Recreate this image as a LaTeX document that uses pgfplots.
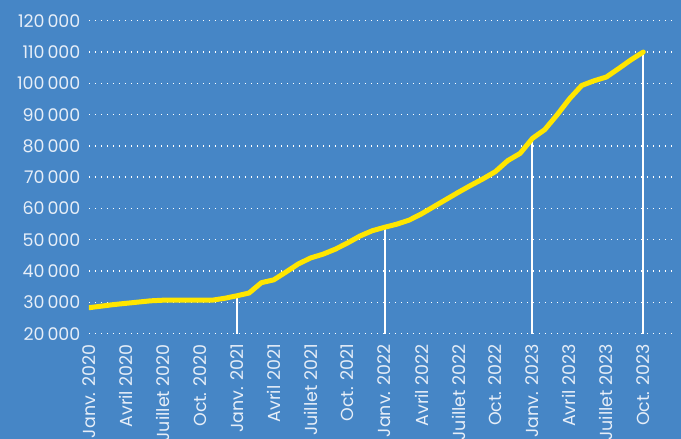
\documentclass[border=0pt]{standalone}
\usepackage{pgfplots}
\pgfplotsset{compat=1.18}
\usepackage{fontspec}
\setmainfont{Poppins}
\definecolor{bg}{RGB}{70,134,198}
\definecolor{yel}{RGB}{255,230,0}
\definecolor{txt}{RGB}{230,238,248}
\pgfplotstableread{
m v
0 28300
1 28800
2 29300
3 29700
4 30100
5 30500
6 30700
7 30700
8 30700
9 30700
10 30700
11 31300
12 32100
13 33000
14 36300
15 37200
16 39700
17 42300
18 44200
19 45400
20 47000
21 49000
22 51200
23 52900
24 54000
25 55000
26 56300
27 58300
28 60600
29 62900
30 65200
31 67400
32 69500
33 71800
34 75300
35 77600
36 82400
37 85200
38 89900
39 95000
40 99300
41 100800
42 102000
43 104700
44 107500
45 110000
}\datatable
\begin{document}
\begin{tikzpicture}
\useasboundingbox (0,0) rectangle (681bp,439bp);
\fill[bg] (0,0) rectangle (681bp,439bp);
\clip (0,0) rectangle (681bp,439bp);
\begin{axis}[
  at={(88.9bp,105.3bp)}, anchor=south west,
  scale only axis, width=585.2bp, height=313bp,
  xmin=0, xmax=47.5, ymin=20000, ymax=120000,
  axis line style={draw=none},
  major tick length=0pt,
  scaled y ticks=false,
  ytick={20000,30000,40000,50000,60000,70000,80000,90000,100000,110000,120000},
  yticklabels={20\,000,30\,000,40\,000,50\,000,60\,000,70\,000,80\,000,90\,000,100\,000,110\,000,120\,000},
  xtick={0,3,...,45},
  xticklabels={Janv. 2020,Avril 2020,Juillet 2020,Oct. 2020,Janv. 2021,Avril 2021,Juillet 2021,Oct. 2021,Janv. 2022,Avril 2022,Juillet 2022,Oct. 2022,Janv. 2023,Avril 2023,Juillet 2023,Oct. 2023},
  ymajorgrids,
  grid style={white, line width=1.4bp, dash pattern=on 1.4bp off 4.6bp},
  tick label style={font=\fontsize{17.5}{20}\selectfont, text=txt},
  yticklabel shift=5bp,
  xticklabel shift=6bp,
  xticklabel style={rotate=90, anchor=east, xshift=-1bp},
]
\addplot[white, line width=2bp, ycomb, mark=none] coordinates {(12,31300) (24,54000) (36,81900) (45,110000)};
\addplot[yel, line width=5bp, line join=round, line cap=round, mark=none] table[x=m,y=v] {\datatable};
\end{axis}
\end{tikzpicture}
\end{document}
